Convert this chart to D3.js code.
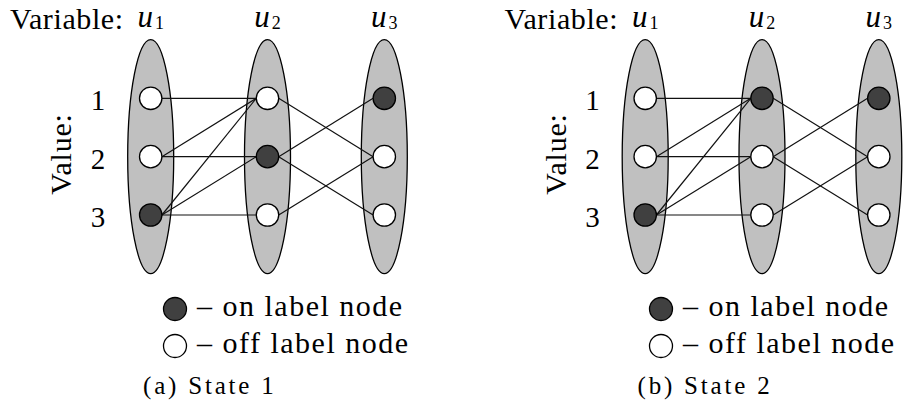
<!DOCTYPE html>
<html><head><meta charset="utf-8"><script src="https://cdn.jsdelivr.net/npm/d3@7"></script>
<style>
@font-face { font-family: "ChartSerif"; src: local("Liberation Serif"), local("LiberationSerif"), local("LiberationSerif-Regular"); font-style: normal; }
@font-face { font-family: "ChartSerif"; src: local("Liberation Serif Italic"), local("LiberationSerif-Italic"); font-style: italic; }
</style>
</head>
<body style="margin:0">
<svg id="c" width="907" height="414"></svg>
<script>
// ---------- data ----------
const variables = ["u1", "u2", "u3"];
const variableSymbols = ["u", "u", "u"];
const variableSubscripts = ["1", "2", "3"];
const values = [1, 2, 3];
const panelLetters = ["a", "b"];
const panelTitles = ["State 1", "State 2"];
// value that is "on" for each variable, per state
const onState1 = [3, 2, 1];
const onState2 = [3, 1, 1];
const onStates = [onState1, onState2];
// edges between u1 and u2 (value of u1, value of u2)
const edgesU1U2 = [[1, 1], [2, 1], [2, 2], [3, 1], [3, 2], [3, 3]];
// edges between u2 and u3 (value of u2, value of u3)
const edgesU2U3 = [[1, 2], [2, 1], [2, 3], [3, 2]];
const legendLabels = ["\u2013 on label node", "\u2013 off label node"];
const legendOn = [true, false];

// ---------- layout ----------
const FONT = '"Liberation Serif", "ChartSerif", "DejaVu Serif", serif';
const svg = d3.select("#c");
const panelOffsets = [0, 494.5];
const legendOffsets = [0, 486];
const darkFill = "#404040";
const groupFill = "#c0c0c0";
const nodeR = 11.2;
const y = d3.scalePoint().domain(values).range([98.3, 215]);

function txt() {
  return svg.append("text").style("font-family", FONT).attr("fill", "#000");
}

panelLetters.forEach((letter, p) => {
  const off = panelOffsets[p];
  const lo = legendOffsets[p];
  const x = d3.scalePoint().domain(variables).range([150.7 + off, 384.3 + off]);
  const onVals = onStates[p];

  // group ellipses
  svg.selectAll(`ellipse.grp${p}`).data(variables).join("ellipse")
    .attr("class", `grp${p}`)
    .attr("cx", d => x(d)).attr("cy", (y(1) + y(3)) / 2)
    .attr("rx", 23).attr("ry", 117)
    .attr("fill", groupFill).attr("stroke", "#000").attr("stroke-width", 1.3);

  // edges
  const edgeData = [
    ...edgesU1U2.map(([a, b]) => ({ from: "u1", to: "u2", a, b })),
    ...edgesU2U3.map(([a, b]) => ({ from: "u2", to: "u3", a, b }))
  ];
  svg.selectAll(`line.edge${p}`).data(edgeData).join("line")
    .attr("class", `edge${p}`)
    .attr("x1", d => x(d.from) + nodeR).attr("y1", d => y(d.a))
    .attr("x2", d => x(d.to) - nodeR).attr("y2", d => y(d.b))
    .attr("stroke", "#111").attr("stroke-width", 1.2);

  // nodes
  const nodes = [];
  variables.forEach((v, i) => values.forEach(val => nodes.push({ v, val, on: onVals[i] === val })));
  svg.selectAll(`circle.node${p}`).data(nodes).join("circle")
    .attr("class", `node${p}`)
    .attr("cx", d => x(d.v)).attr("cy", d => y(d.val)).attr("r", nodeR)
    .attr("fill", d => d.on ? darkFill : "#fff")
    .attr("stroke", "#000").attr("stroke-width", 1.3);

  // header
  txt().attr("x", 10 + off).attr("y", 28.5).attr("font-size", 30)
    .attr("letter-spacing", 0.6)
    .text("Variable:");
  variables.forEach((v, i) => {
    const t = txt().attr("x", x(v)).attr("y", 26.7).attr("text-anchor", "middle");
    t.append("tspan").attr("font-size", 31).attr("font-style", "italic").text(variableSymbols[i]);
    t.append("tspan").attr("font-size", 18).attr("dy", 2).attr("dx", 2).text(variableSubscripts[i]);
  });

  // value labels
  txt().attr("transform", `translate(${71 + off},154) rotate(-90)`)
    .attr("text-anchor", "middle").attr("font-size", 30)
    .attr("letter-spacing", 0.8)
    .text("Value:");
  values.forEach(val => {
    txt().attr("x", 98 + off).attr("y", y(val) + 12)
      .attr("text-anchor", "middle").attr("font-size", 29).text(val);
  });

  // legend
  legendLabels.forEach((lab, k) => {
    const cy = 309 + k * 37;
    svg.append("circle").attr("cx", 175 + lo).attr("cy", cy).attr("r", 11.5)
      .attr("fill", legendOn[k] ? darkFill : "#fff")
      .attr("stroke", "#000").attr("stroke-width", 1.3);
    txt().attr("x", 197 + lo).attr("y", cy + 6.5).attr("font-size", 30)
      .attr("letter-spacing", 1.5).text(lab);
  });

  // caption
  txt().attr("x", 143 + off).attr("y", 394).attr("font-size", 25)
    .attr("letter-spacing", 2.8)
    .text(`(${letter}) ${panelTitles[p]}`);
});
</script></body></html>
